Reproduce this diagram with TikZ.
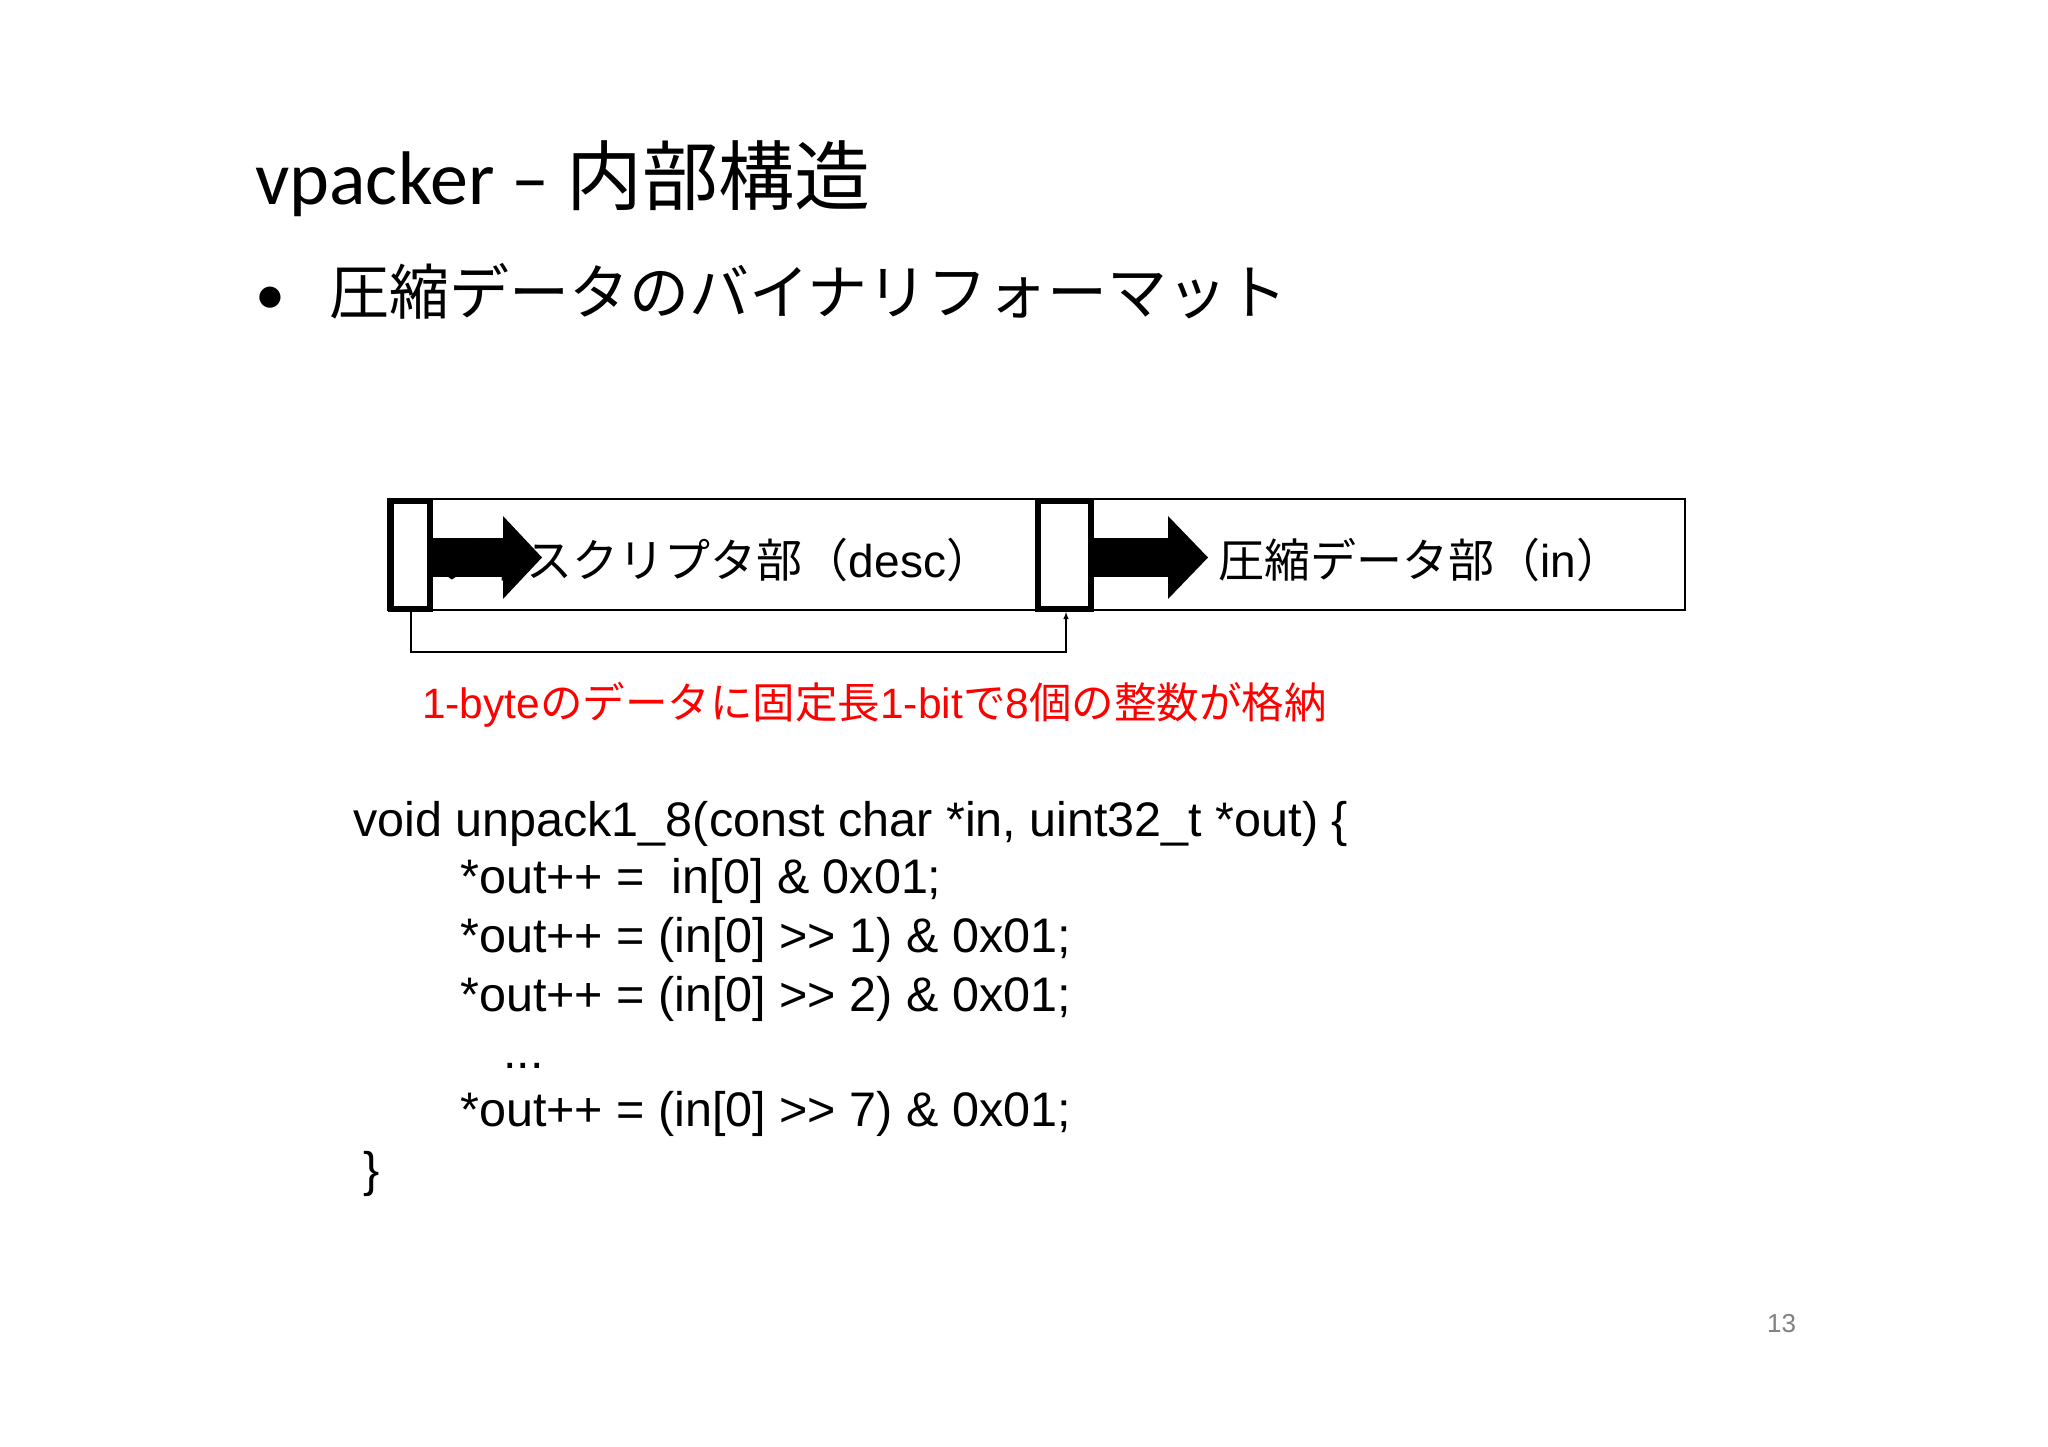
\documentclass[tikz,border=0pt]{standalone}
\usepackage{fontspec}
\setmainfont{Liberation Sans}
\newfontfamily\jp{Noto Sans CJK JP}
\newfontfamily\calfnt{Carlito}
\begin{document}
\begin{tikzpicture}[x=1pt,y=-1pt,
  txt/.style={anchor=base west,inner sep=0pt},
  code/.style={txt,font=\fontsize{48.5}{48.5}\selectfont},
  blk/.style={fill=black,draw=none},
  tag/.style={draw=black,line width=6pt,fill=white}]
\useasboundingbox[fill=white] (0,0) rectangle (2048,1447);
\node[txt,font=\fontsize{76}{76}\selectfont] (title) at (255,205) {\calfnt vpacker – \jp 内部構造};
\node[txt,font=\fontsize{60}{60}\selectfont] (bul) at (255,315) {\calfnt •\hspace{44pt}\jp 圧縮データのバイナリフォーマット};
% boxes
\draw[line width=1.6pt] (388,499) rectangle (1685,610);
\node[txt,font=\fontsize{46}{46}\selectfont\jp] (t1) at (438,577) {ディスクリプタ部（\rmfamily desc\jp ）};
\node[txt,font=\fontsize{46}{46}\selectfont\jp] (t2) at (1218,577) {圧縮データ部（\rmfamily in\jp ）};
\fill[blk] (432,538) rectangle (505,577);
\fill[blk] (503,516) -- (542,557.5) -- (503,599) -- cycle;
\fill[blk] (1093,538) rectangle (1170,577);
\fill[blk] (1168,516) -- (1208,557.5) -- (1168,599) -- cycle;
\draw[tag] (391,501) rectangle (430,609);
\draw[tag] (1038,501) rectangle (1091,609);
\coordinate (s) at (411,612);
\coordinate (e) at (1066,612);
\draw[line width=1.4pt,-latex] (s) -- (411,652) -- (1066,652) -- (e);
\node[txt,text=red,font=\fontsize{42.5}{42.5}\selectfont] (red) at (422,718) {1-byte\jp のデータに固定長\rmfamily 1-bit\jp で\rmfamily 8\jp 個の整数が格納};
\node[code] (c1) at (353,836) {void unpack1\_8(const char *in, uint32\_t *out) \{};
\node[code] (c2) at (460,893) {*out++ = \ in[0] \& 0x01;};
\node[code] (c3) at (460,952) {*out++ = (in[0] >{}> 1) \& 0x01;};
\node[code] (c4) at (460,1011) {*out++ = (in[0] >{}> 2) \& 0x01;};
\node[code] (c5) at (503,1068) {...};
\node[code] (c6) at (460,1126) {*out++ = (in[0] >{}> 7) \& 0x01;};
\node[code] (c7) at (363,1186) {\}};
\node[txt,text=gray,font=\fontsize{26}{26}\selectfont] (pg) at (1767,1332) {13};
\end{tikzpicture}
\end{document}
